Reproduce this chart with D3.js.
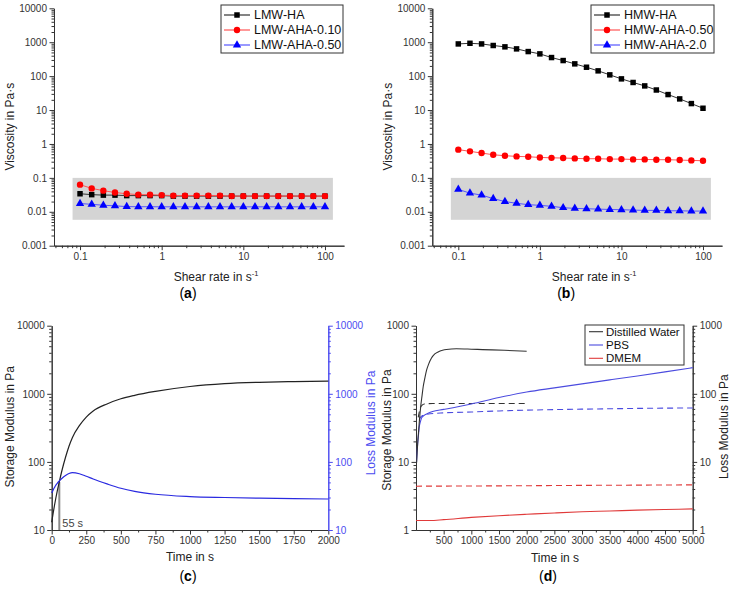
<!DOCTYPE html>
<html><head><meta charset="utf-8">
<script src="https://cdn.jsdelivr.net/npm/d3@7"></script>
<style>
body{margin:0;background:#fff}
text{font-family:"Liberation Sans",Arial,sans-serif}
</style>
</head><body>
<svg id="chart" width="732" height="590"></svg>
<script>
// ---------------- DATA ----------------
const shearRate = [0.1,0.139,0.193,0.268,0.373,0.518,0.72,1,1.39,1.93,2.68,3.73,5.18,7.2,10,13.9,19.3,26.8,37.3,51.8,72,100];
// panel (a)
const lmwHA     = [0.034,0.032,0.031,0.031,0.030,0.030,0.030,0.030,0.029,0.029,0.029,0.029,0.029,0.029,0.029,0.029,0.029,0.029,0.029,0.029,0.029,0.029];
const lmwAHA010 = [0.063,0.049,0.042,0.037,0.034,0.032,0.032,0.031,0.030,0.030,0.030,0.030,0.030,0.029,0.029,0.029,0.029,0.029,0.029,0.029,0.029,0.029];
const lmwAHA050 = [0.0175,0.0166,0.0156,0.015,0.0142,0.0141,0.0141,0.014,0.014,0.014,0.014,0.014,0.014,0.014,0.014,0.014,0.014,0.014,0.014,0.014,0.014,0.014];
const legendA = ["LMW-HA","LMW-AHA-0.10","LMW-AHA-0.50"];
// panel (b)
const hmwHA     = [890,930,890,800,730,636,530,453,353,288,230,183,143,109,83,65,51.5,39,28.6,21.3,15.5,11.3];
const hmwAHA050 = [0.68,0.605,0.54,0.48,0.45,0.43,0.42,0.40,0.39,0.384,0.375,0.367,0.367,0.358,0.358,0.35,0.35,0.343,0.343,0.335,0.327,0.32];
const hmwAHA20  = [0.0457,0.0355,0.031,0.0245,0.020,0.0178,0.0162,0.0155,0.0145,0.0132,0.0126,0.0123,0.012,0.0117,0.0115,0.0112,0.011,0.011,0.0107,0.0107,0.0105,0.0105];
const legendB = ["HMW-HA","HMW-AHA-0.50","HMW-AHA-2.0"];
const shadeRange = {x:[0.081,125], y:[0.0058,0.1]};
const viscTicks = [0.001,0.01,0.1,1,10,100,1000,10000];
const shearTicks = [0.1,1,10,100];
// panel (c)
const cTime    = [0,10,20,30,40,55,75,100,125,150,200,250,300,400,500,600,750,1000,1250,1500,1750,2000];
const cStorage = [13,17.4,22.9,29.5,37.2,51,76,117,170,229,340,455,560,710,845,950,1085,1280,1410,1475,1510,1535];
const cLoss    = [35,38.5,42,45.5,48.5,52.5,57.5,63,67.5,69.5,67,61.5,56,47.5,41,37,33.5,31,30,29.3,28.8,28.5];
const gelPoint = 55;
const cTimeTicks = [0,250,500,750,1000,1250,1500,1750,2000];
const cModTicks = [10,100,1000,10000];
// panel (d)
const waterTime     = [10,20,30,45,60,85,110,130,160,190,230,280,340,400,480,550,730,1000,1200,1600,2000];
const waterStorage  = [9.6,13.5,18.5,27,39,65,95,127,170,220,275,335,385,412,435,447,458,452,446,435,421];
const waterLossTime = [40,55,80,110,150,300,1000,2000];
const waterLoss     = [45,52,63,68,71,72,72,72];
const pbsTime       = [10,20,30,45,60,80,100,130,160,200,300,500,1000,1500,2000,2500,3000,3500,4000,4500,5000];
const pbsStorage    = [10,14,18.6,25,33,39,44,47,49,51,55,59,71,88,106,122,140,160,183,210,242];
const pbsLossTime   = [60,80,120,200,500,1000,1500,2000,3000,4000,5000];
const pbsLoss       = [42,45,48,50,52.5,54,56,57.5,59.5,61,62];
const dmemTime      = [0,250,500,1000,1500,2000,2500,3000,3500,4000,4500,5000];
const dmemStorage   = [1.38,1.38,1.42,1.53,1.62,1.70,1.78,1.85,1.90,1.96,2.0,2.04];
const dmemLossTime  = [0,1000,2000,3000,4000,5000];
const dmemLoss      = [4.4,4.43,4.47,4.52,4.56,4.6];
const legendD = ["Distilled Water","PBS","DMEM"];
const dTimeTicks = [500,1000,1500,2000,2500,3000,3500,4000,4500,5000];
const dModTicks = [1,10,100,1000];

// ---------------- HELPERS ----------------
const svg = d3.select("#chart");
const FS = 10;
function minorLog(domain){
  const out=[]; const lo=Math.floor(Math.log10(domain[0])), hi=Math.ceil(Math.log10(domain[1]));
  for(let e=lo;e<=hi;e++) for(let m=2;m<=9;m++){const v=m*Math.pow(10,e); if(v>=domain[0]&&v<=domain[1]) out.push(v);}
  return out;
}
function axis(gen, scale, tx, ty, majors, minors, fmt, color){
  const g = svg.append("g").attr("transform",`translate(${tx},${ty})`);
  g.append("g").call(gen(scale).tickValues(minors).tickSize(2.5).tickSizeOuter(0).tickFormat(""));
  g.append("g").call(gen(scale).tickValues(majors).tickSize(4.5).tickSizeOuter(0).tickPadding(2.5).tickFormat(fmt));
  g.selectAll("path,line").attr("stroke",color).attr("stroke-width",1);
  g.selectAll("text").attr("fill",color).style("font-size",FS+"px");
  return g;
}
function vTitle(x,y,txt,color,size){
  svg.append("text").attr("transform",`translate(${x},${y}) rotate(-90)`).attr("text-anchor","middle")
    .attr("dominant-baseline","central").attr("fill",color).style("font-size",size+"px").text(txt);
}
function shearTitle(x,y){
  const t=svg.append("text").attr("x",x).attr("y",y).attr("text-anchor","middle").style("font-size","12px").attr("fill","#222");
  t.append("tspan").text("Shear rate in s");
  t.append("tspan").attr("dy",-5).style("font-size","7.5px").text("-1");
}
function panelLabel(x,y,letter){
  const t=svg.append("text").attr("x",x).attr("y",y).attr("text-anchor","middle").style("font-size","14px").attr("fill","#000");
  t.append("tspan").text("(");
  t.append("tspan").style("font-weight","bold").text(letter);
  t.append("tspan").text(")");
}
const sym = {sq:d3.symbol(d3.symbolSquare,30), ci:d3.symbol(d3.symbolCircle,32), tr:d3.symbol(d3.symbolTriangle,30)};

// ---------------- PANELS (a), (b) ----------------
function viscPanel(x0,x1,series,legendX,legendW,labels,letter){
  const x = d3.scaleLog().domain([0.048,171]).range([x0,x1]);
  const y = d3.scaleLog().domain([0.001,10000]).range([245.7,8.3]);
  svg.append("rect").attr("x",x(shadeRange.x[0])).attr("y",y(shadeRange.y[1]))
    .attr("width",x(shadeRange.x[1])-x(shadeRange.x[0])).attr("height",y(shadeRange.y[0])-y(shadeRange.y[1])).attr("fill","#d4d4d4");
  axis(d3.axisBottom,x,0,245.7,shearTicks,minorLog(x.domain()),d=>String(d),"#333");
  axis(d3.axisLeft,y,x0,0,viscTicks,minorLog(y.domain()),d=>String(d),"#333");
  series.forEach(s=>{
    const pts = shearRate.map((r,i)=>[x(r),y(s.v[i])]);
    svg.append("path").attr("d",d3.line()(pts)).attr("fill","none").attr("stroke",s.line).attr("stroke-width",1);
    svg.append("g").selectAll("path").data(pts).join("path").attr("d",sym[s.m]).attr("transform",d=>`translate(${d[0]},${d[1]})`).attr("fill",s.c);
  });
  // legend
  const lg = svg.append("g");
  lg.append("rect").attr("x",legendX).attr("y",5).attr("width",legendW).attr("height",48).attr("fill","#fff").attr("stroke","#333");
  series.forEach((s,i)=>{
    const yy=15+i*15;
    lg.append("line").attr("x1",legendX+3).attr("x2",legendX+29).attr("y1",yy).attr("y2",yy).attr("stroke",s.line).attr("stroke-width",1.2);
    lg.append("path").attr("d",sym[s.m]).attr("transform",`translate(${legendX+16},${yy})`).attr("fill",s.c);
    lg.append("text").attr("x",legendX+33).attr("y",yy).attr("dominant-baseline","central").style("font-size","12.5px").attr("fill","#111").text(labels[i]);
  });
  vTitle(x0-44,126.7,"Viscosity in Pa·s","#222",12);
  shearTitle((x0+x1)/2+17,281);
  panelLabel((x0+x1)/2-11,298,letter);
}
viscPanel(54,344,[
  {v:lmwHA,c:"#000",line:"#333",m:"sq"},
  {v:lmwAHA010,c:"#f00",line:"#f55",m:"ci"},
  {v:lmwAHA050,c:"#00f",line:"#55f",m:"tr"}
],221,122,legendA,"a");
viscPanel(432.3,722,[
  {v:hmwHA,c:"#000",line:"#333",m:"sq"},
  {v:hmwAHA050,c:"#f00",line:"#f55",m:"ci"},
  {v:hmwAHA20,c:"#00f",line:"#55f",m:"tr"}
],591,123,legendB,"b");

// ---------------- PANEL (c) ----------------
{
  const x = d3.scaleLinear().domain([0,2000]).range([51.7,328.3]);
  const y = d3.scaleLog().domain([10,10000]).range([530,325.7]);
  const minorT = d3.range(125,2000,250);
  axis(d3.axisBottom,x,0,530,cTimeTicks,minorT,d=>String(d),"#333");
  axis(d3.axisLeft,y,51.7,0,cModTicks,minorLog(y.domain()),d=>String(d),"#333");
  axis(d3.axisRight,y,328.3,0,cModTicks,minorLog(y.domain()),d=>String(d),"#4b4bf0");
  const line = d3.line().x(d=>x(d[0])).y(d=>y(d[1])).curve(d3.curveMonotoneX);
  // gel point marker
  const cross = cStorage[cTime.indexOf(gelPoint)];
  svg.append("line").attr("x1",x(gelPoint)).attr("x2",x(gelPoint)).attr("y1",y(10)).attr("y2",y(cross))
    .attr("stroke","#8a8a8a").attr("stroke-width",2);
  svg.append("path").attr("d",line(cTime.map((t,i)=>[t,cStorage[i]]))).attr("fill","none").attr("stroke","#222").attr("stroke-width",1.2);
  svg.append("path").attr("d",line(cTime.map((t,i)=>[t,cLoss[i]]))).attr("fill","none").attr("stroke","#2a2ae0").attr("stroke-width",1.2);
  svg.append("text").attr("x",x(gelPoint)+3).attr("y",527).style("font-size","11px").attr("fill","#444").text(gelPoint+" s");
  vTitle(10,426.7,"Storage Modulus in Pa","#222",12);
  vTitle(371,423,"Loss Modulus in Pa","#4b4bf0",12);
  svg.append("text").attr("x",190).attr("y",561).attr("text-anchor","middle").style("font-size","12px").attr("fill","#222").text("Time in s");
  panelLabel(188,581,"c");
}

// ---------------- PANEL (d) ----------------
{
  const x = d3.scaleLinear().domain([0,5000]).range([416,692.7]);
  const y = d3.scaleLog().domain([1,1000]).range([530,325.7]);
  const minorT = d3.range(250,5000,500);
  axis(d3.axisBottom,x,0,530,dTimeTicks,minorT,d=>String(d),"#333");
  axis(d3.axisLeft,y,416,0,dModTicks,minorLog(y.domain()),d=>String(d),"#333");
  axis(d3.axisRight,y,692.7,0,dModTicks,minorLog(y.domain()),d=>String(d),"#333");
  const line = d3.line().x(d=>x(d[0])).y(d=>y(d[1])).curve(d3.curveMonotoneX);
  const cols = {w:"#333",p:"#4b4bdf",m:"#e03a3a"};
  const draw=(ts,vs,c,dash)=>svg.append("path").attr("d",line(ts.map((t,i)=>[t,vs[i]]))).attr("fill","none")
    .attr("stroke",c).attr("stroke-width",1.1).attr("stroke-dasharray",dash?"6,4":null);
  draw(dmemLossTime,dmemLoss,cols.m,true);
  draw(dmemTime,dmemStorage,cols.m,false);
  draw(waterLossTime,waterLoss,cols.w,true);
  draw(pbsLossTime,pbsLoss,cols.p,true);
  draw(pbsTime,pbsStorage,cols.p,false);
  draw(waterTime,waterStorage,cols.w,false);
  const lg=svg.append("g");
  lg.append("rect").attr("x",585).attr("y",325).attr("width",99).attr("height",40).attr("fill","#fff").attr("stroke","#333");
  [cols.w,cols.p,cols.m].forEach((c,i)=>{
    const yy=331.7+i*13.3;
    lg.append("line").attr("x1",589).attr("x2",603).attr("y1",yy).attr("y2",yy).attr("stroke",c).attr("stroke-width",1.1);
    lg.append("text").attr("x",606).attr("y",yy).attr("dominant-baseline","central").style("font-size","11.5px").attr("fill","#111").text(legendD[i]);
  });
  vTitle(386.5,430,"Storage Modulus in Pa","#222",12);
  vTitle(724,426.7,"Loss Modulus in Pa","#222",12);
  svg.append("text").attr("x",555).attr("y",562).attr("text-anchor","middle").style("font-size","12px").attr("fill","#222").text("Time in s");
  panelLabel(548,581,"d");
}
</script>
</body></html>
